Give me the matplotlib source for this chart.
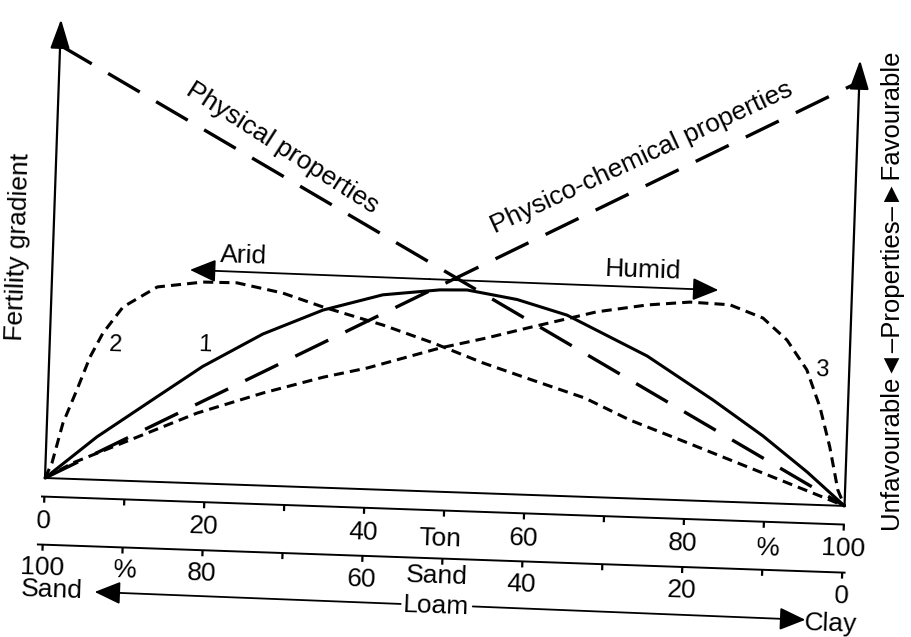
import matplotlib
matplotlib.use('Agg')
import matplotlib.pyplot as plt
from matplotlib.transforms import Affine2D

# ---------------- data ----------------
clay_ticks = [0, 20, 40, 60, 80, 100]
clay_labels = ['0', '20', '40', '60', '80', '100']
sand_labels = ['100', '80', '60', '40', '20', '0']
minor_ticks = [0, 10, 20, 30, 40, 50, 60, 70, 80, 90, 100]

phys_x = [0, 100]
phys_y = [100, 0]
chem_x = [0, 100]
chem_y = [0, 98]

c1_x = [0, 6.3, 13.6, 19.2, 26.6, 34.0, 41.4, 48.5, 51.9, 58.2, 64.5, 74.7, 83.1, 89.5, 95.2, 100]
c1_y = [0, 9.9, 19.6, 27.0, 35.0, 41.0, 45.0, 46.6, 46.8, 45.0, 41.8, 33.0, 23.4, 15.5, 7.5, 0]

c2_x = [0, 0.8, 2.0, 3.6, 5.1, 6.6, 9.0, 13.2, 18.9, 23.1, 28.9, 34.0, 41.6, 47.9, 54.2, 60.5,
        67.1, 72.8, 79.2, 85.5, 91.8, 96.0, 100]
c2_y = [0, 3.5, 12.8, 20.6, 28.3, 33.9, 40.1, 45.0, 46.5, 46.6, 44.6, 41.7, 38.0, 34.3, 30.1, 26.5,
        22.8, 18.1, 13.9, 9.7, 5.5, 2.7, 0]

c3_x = [0, 3.4, 10.5, 18.7, 26.9, 34.3, 39.8, 48.8, 54.6, 59.6, 68.2, 74.5, 79.8, 84.8, 89.0,
        92.1, 94.7, 96.5, 97.9, 99.1, 100]
c3_y = [0, 3.7, 9.5, 16.2, 21.4, 25.5, 28.0, 33.2, 35.9, 38.5, 42.8, 44.8, 45.8, 45.5, 42.7,
        37.8, 31.1, 22.6, 13.5, 3.6, 0]

arid_humid_x = [17.2, 83.3]
arid_humid_y = [49.2, 48.8]

# ---------------- layout ----------------
W, H, DPI = 911, 637, 100
plt.rcParams['font.family'] = ['Liberation Sans', 'DejaVu Sans']
FS = 19

fig = plt.figure(figsize=(W / DPI, H / DPI), dpi=DPI)
ax = fig.add_axes([0, 0, 1, 1])
ax.axis('off')
ox_px, oy_px = 45, 478
sx, sy = 8.0, 4.33
ax.set_xlim(-ox_px / sx, (W - ox_px) / sx)
ax.set_ylim((oy_px - H) / sy, oy_px / sy)
tilt = -2.0
tr = ax.transData + Affine2D().rotate_deg_around(ox_px, H - oy_px, tilt)

K = 'black'

def arrow(x0, y0, x1, y1, style='-|>', lw=1.4, ms=18):
    ax.annotate('', xy=(x1, y1), xytext=(x0, y0), xycoords=tr, textcoords=tr,
                arrowprops=dict(arrowstyle=style, color=K, lw=lw, mutation_scale=ms,
                                shrinkA=0, shrinkB=0))

def txt(x, y, s, rot=0.0, fs=FS, **kw):
    ax.text(x, y, s, transform=tr, rotation=rot + tilt, rotation_mode='anchor',
            ha=kw.pop('ha', 'center'), va=kw.pop('va', 'center'), fontsize=fs, color=K, **kw)

# axes
arrow(0, 0, 0, 106, style='-|>,head_length=0.9,head_width=0.3', lw=1.6, ms=20)
arrow(100, 0, 100, 103, style='-|>,head_length=0.9,head_width=0.3', lw=1.6, ms=20)
ax.plot([0, 100], [0, 0], color=K, lw=1.4, transform=tr)

# long dashed property lines
ax.plot(phys_x, phys_y, color=K, lw=2.4, ls=(0, (11, 5.7)), transform=tr)
ax.plot(chem_x, chem_y, color=K, lw=2.4, ls=(0, (11, 5.7)), transform=tr)

# fertility curves
ax.plot(c1_x, c1_y, color=K, lw=2.2, transform=tr, solid_capstyle='round', solid_joinstyle='round')
ax.plot(c2_x, c2_y, color=K, lw=2.2, ls=(0, (3.3, 2.0)), transform=tr)
ax.plot(c3_x, c3_y, color=K, lw=2.2, ls=(0, (3.3, 2.0)), transform=tr)

# arid / humid arrow
arrow(arid_humid_x[0] + 30, 49.0, arid_humid_x[0], arid_humid_y[0],
      style='-|>,head_length=0.8,head_width=0.35', lw=1.3, ms=20)
arrow(arid_humid_x[0] + 30, 49.0, arid_humid_x[1], arid_humid_y[1],
      style='-|>,head_length=0.8,head_width=0.35', lw=1.3, ms=20)
txt(23.8, 52.8, 'Arid')
txt(73.8, 52.8, 'Humid')

# curve numbers
txt(8.2, 31.3, '2', fs=17)
txt(19.4, 32.0, '1', fs=17)
txt(96.6, 31.2, '3', fs=17)

# property labels
txt(28.2, 78.1, 'Physical properties', rot=-30.6)
txt(73.2, 78.7, 'Physico-chemical properties', rot=26.9)

# side labels
txt(-4.4, 53.1, 'Fertility gradient', rot=90)
txt(104.9, 50.5, 'Unfavourable\u25c4\u2013Properties\u2013\u25baFavourable', rot=92, fs=18.5)

# clay scale
top_y, bot_y, tick = -4.3, -15.4, 1.4
ax.plot([-0.3, 100], [top_y, top_y], color=K, lw=1.4, transform=tr)
ax.vlines(minor_ticks, top_y - tick, top_y, color=K, lw=1.6, transform=tr)
for x, s in zip(clay_ticks, clay_labels):
    txt(x, -10.0, s)
txt(49.6, -10.8, 'Ton')
txt(90.6, -10.5, '%')

# sand scale
ax.plot([-0.6, 100.3], [bot_y, bot_y], color=K, lw=1.4, transform=tr)
ax.vlines(minor_ticks, bot_y - tick, bot_y, color=K, lw=1.6, transform=tr)
for x, s in zip(clay_ticks, sand_labels):
    txt(x, -20.8, s)
txt(10.4, -20.8, '%')
txt(49.4, -19.5, 'Sand')

# texture arrow
arrow(45, -26.2, 6.7, -25.9, style='-|>,head_length=0.8,head_width=0.35', lw=1.3, ms=20)
arrow(54, -26.2, 95.6, -26.6, style='-|>,head_length=0.8,head_width=0.35', lw=1.3, ms=20)
txt(1.3, -25.9, 'Sand')
txt(49.4, -26.4, 'Loam', bbox=dict(fc='white', ec='none', pad=1))
txt(98.7, -27.3, 'Clay')

fig.savefig('out.png', dpi=DPI)
